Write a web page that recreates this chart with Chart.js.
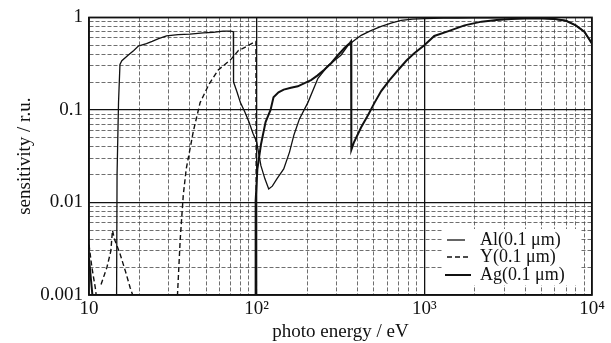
<!DOCTYPE html>
<html>
<head>
<meta charset="utf-8">
<script src="https://cdn.jsdelivr.net/npm/chart.js@4"></script>
<style>
  html, body { margin: 0; padding: 0; background: #fff; }
  #wrap { width: 611px; height: 343px; }
</style>
</head>
<body>
<div id="wrap"><canvas id="chart" width="611" height="343"></canvas></div>
<script>
// axis ticks
const xMajorTicks = [10, 100, 1000, 10000];
const xTickLabels = ["10", "10\u00B2", "10\u00B3", "10\u2074"];
const yMajorTicks = [0.001, 0.01, 0.1, 1];
const yTickLabels = ["0.001", "0.01", "0.1", "1"];

const seriesNames = ["Al(0.1 \u03BCm)", "Y(0.1 \u03BCm)", "Ag(0.1 \u03BCm)"];

// Al (0.1 um)
const alX = [14.6, 14.7, 15.0, 15.3, 15.7, 17.1, 18.5, 19.7, 22, 23.8, 26, 29, 34, 40, 48, 55, 63, 70, 72.6,
  72.8, 76, 80, 85, 90, 95, 100, 106, 112, 118, 124, 132, 145, 157, 167, 180, 202, 232, 266, 318, 351,
  385, 420, 480, 553, 640, 728, 850, 1000, 1300, 1600, 2000, 3000, 4000, 5000, 6000, 7000, 8000, 9000, 10000];
const alY = [0.0008, 0.02, 0.12, 0.31, 0.34, 0.39, 0.44, 0.49, 0.52, 0.55, 0.59, 0.63, 0.65, 0.66, 0.68, 0.69, 0.71, 0.71, 0.70,
  0.2, 0.16, 0.12, 0.095, 0.074, 0.056, 0.045, 0.025, 0.018, 0.014, 0.015, 0.018, 0.023, 0.035, 0.054, 0.08, 0.12, 0.22, 0.30, 0.39, 0.5,
  0.57, 0.64, 0.72, 0.80, 0.87, 0.93, 0.96, 0.97, 0.98, 0.98, 0.99, 0.99, 0.99, 0.98, 0.96, 0.92, 0.82, 0.7, 0.52];

// Y (0.1 um)
const yX = [10, 10.4, 10.9, 11.2, 11.5,
  11.8, 12.8, 13.5, 13.8, 14.2, 15.3, 16.5, 17.6, 19, 19.5,
  33.5, 35, 36.5, 38, 42, 46, 52, 59, 70, 78, 88, 95, 99, 99.6];
const yY = [0.0035, 0.002, 0.0012, 0.0008, null,
  0.0013, 0.002, 0.003, 0.005, 0.004, 0.0028, 0.0018, 0.0012, 0.0008, null,
  0.0008, 0.004, 0.012, 0.023, 0.06, 0.12, 0.19, 0.27, 0.35, 0.44, 0.49, 0.53, 0.55, 0.0008];

// Ag (0.1 um)
const agX = [10, 10.3, 10.6, 11,
  98.3, 98.6, 101, 106, 113, 121, 126, 135, 145, 160, 176, 193, 211, 230, 252, 278, 305, 335, 360, 365.5,
  367, 381, 420, 462, 505, 553, 620, 698, 780, 871, 1000, 1146, 1393, 1737, 2193, 2700, 3300, 4000, 5000, 6000, 7000, 8000, 9000, 10000];
const agY = [0.0025, 0.0014, 0.0008, null,
  0.0008, 0.0104, 0.023, 0.042, 0.074, 0.10, 0.137, 0.155, 0.166, 0.174, 0.18, 0.195, 0.21, 0.235, 0.27, 0.32, 0.39, 0.47, 0.53, 0.55,
  0.037, 0.045, 0.065, 0.088, 0.12, 0.16, 0.21, 0.27, 0.34, 0.41, 0.5, 0.63, 0.71, 0.82, 0.9, 0.94, 0.96, 0.97, 0.97, 0.96, 0.92, 0.82, 0.7, 0.52];

const serif = "'Liberation Serif', 'Times New Roman', serif";
const ink = "#111";

function toPoints(xs, ys) {
  return xs.map((x, i) => ({ x: x, y: ys[i] }));
}

// 1..9 x 10^n grid positions for each decade
function decadeTicks(majors) {
  const out = [];
  for (let i = 0; i < majors.length - 1; i++) {
    for (let m = 1; m <= 9; m++) out.push({ value: m * majors[i], major: m === 1 });
  }
  out.push({ value: majors[majors.length - 1], major: true });
  return out;
}

function majorLabel(value, majors, labels) {
  const idx = majors.findIndex(v => Math.abs(Math.log10(v) - Math.log10(value)) < 1e-6);
  return idx >= 0 ? labels[idx] : "";
}

const gridColor = ctx => (ctx.tick && ctx.tick.major) ? "#111" : "#4a4a4a";
const gridWidth = ctx => (ctx.tick && ctx.tick.major) ? 1.3 : 0.8;
const gridDash = ctx => (ctx.tick && !ctx.tick.major) ? [4, 2] : [];

const framePlugin = {
  id: "frameAndLegend",
  afterDraw(chart) {
    const { ctx, chartArea } = chart;
    ctx.save();
    ctx.strokeStyle = ink;
    ctx.lineWidth = 1.6;
    ctx.setLineDash([]);
    ctx.strokeRect(chartArea.left, chartArea.top, chartArea.right - chartArea.left, chartArea.bottom - chartArea.top);

    // legend box, lower right inside the plot
    ctx.fillStyle = "#fff";
    ctx.fillRect(442, 229, 138, 56);
    const rows = [240, 257, 275];
    const lineSpans = [[447, 465], [447, 471], [445, 471]];
    chart.data.datasets.forEach((ds, i) => {
      ctx.strokeStyle = ds.borderColor;
      ctx.lineWidth = ds.borderWidth;
      ctx.setLineDash(ds.borderDash || []);
      ctx.beginPath();
      ctx.moveTo(lineSpans[i][0], rows[i]);
      ctx.lineTo(lineSpans[i][1], rows[i]);
      ctx.stroke();
      ctx.setLineDash([]);
      ctx.fillStyle = ink;
      ctx.font = "18px " + serif;
      ctx.textBaseline = "middle";
      ctx.textAlign = "left";
      ctx.fillText(ds.label, 480, rows[i]);
    });
    ctx.restore();
  }
};

new Chart(document.getElementById("chart"), {
  type: "line",
  data: {
    datasets: [
      { label: seriesNames[0], data: toPoints(alX, alY), borderColor: ink, borderWidth: 1.3 },
      { label: seriesNames[1], data: toPoints(yX, yY), borderColor: ink, borderWidth: 1.4, borderDash: [5, 3] },
      { label: seriesNames[2], data: toPoints(agX, agY), borderColor: ink, borderWidth: 2 }
    ]
  },
  options: {
    responsive: false,
    animation: false,
    spanGaps: false,
    elements: { point: { radius: 0 }, line: { tension: 0 } },
    layout: { padding: { top: 12, right: 19, left: 0, bottom: 0 } },
    plugins: { legend: { display: false }, tooltip: { enabled: false } },
    scales: {
      x: {
        type: "logarithmic",
        min: 10,
        max: 10000,
        afterBuildTicks: scale => { scale.ticks = decadeTicks(xMajorTicks); },
        afterFit: scale => { scale.height = 48; },
        ticks: {
          autoSkip: false,
          maxRotation: 0,
          padding: 3,
          color: ink,
          font: { family: serif, size: 19 },
          callback: v => majorLabel(v, xMajorTicks, xTickLabels)
        },
        grid: { drawTicks: false, color: gridColor, lineWidth: gridWidth },
        border: { color: ink, width: 1.5, dash: gridDash },
        title: {
          display: true,
          text: "photo energy / eV",
          color: ink,
          font: { family: serif, size: 19 },
          padding: { top: 0, bottom: 0 }
        }
      },
      y: {
        type: "logarithmic",
        min: 0.001,
        max: 1,
        afterBuildTicks: scale => { scale.ticks = decadeTicks(yMajorTicks); },
        afterFit: scale => { scale.width = 89; },
        ticks: {
          autoSkip: false,
          padding: 6,
          color: ink,
          font: { family: serif, size: 19 },
          callback: v => majorLabel(v, yMajorTicks, yTickLabels)
        },
        grid: { drawTicks: false, color: gridColor, lineWidth: gridWidth },
        border: { color: ink, width: 1.5, dash: gridDash },
        title: {
          display: true,
          text: "sensitivity / r.u.",
          color: ink,
          font: { family: serif, size: 19 },
          padding: { top: 14, bottom: 0 }
        }
      }
    }
  },
  plugins: [framePlugin]
});
</script>
</body>
</html>
